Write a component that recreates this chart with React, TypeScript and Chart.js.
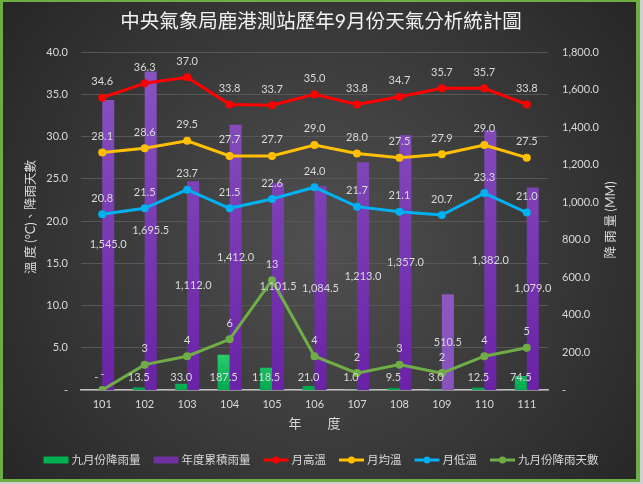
import React, { useEffect, useRef } from 'react';
import { Chart, registerables } from 'chart.js';

Chart.register(...registerables);

const FONT = 'Lato, "Noto Sans CJK TC", sans-serif';

const years = ['101', '102', '103', '104', '105', '106', '107', '108', '109', '110', '111'];
const septRain = [0, 13.5, 33.0, 187.5, 118.5, 21.0, 1.0, 9.5, 3.0, 12.5, 74.5];
const annualRain = [1545.0, 1695.5, 1112.0, 1412.0, 1101.5, 1084.5, 1213.0, 1357.0, 510.5, 1382.0, 1079.0];
const maxTemp = [34.6, 36.3, 37.0, 33.8, 33.7, 35.0, 33.8, 34.7, 35.7, 35.7, 33.8];
const avgTemp = [28.1, 28.6, 29.5, 27.7, 27.7, 29.0, 28.0, 27.5, 27.9, 29.0, 27.5];
const minTemp = [20.8, 21.5, 23.7, 21.5, 22.6, 24.0, 21.7, 21.1, 20.7, 23.3, 21.0];
const rainDays = [0, 3, 4, 6, 13, 4, 2, 3, 2, 4, 5];

const TITLE = '中央氣象局鹿港測站歷年9月份天氣分析統計圖';
const LEFT_TITLE = '溫 度 (°C)、降雨天數';
const RIGHT_TITLE = '降 雨 量 (MM)';
const X_TITLE = '年　　度';

const TEXT = '#d9d9d9';

const fmt1 = (v: number) =>
  v === 0 ? '-' : v.toLocaleString('en-US', { minimumFractionDigits: 1, maximumFractionDigits: 1 });
const fmtInt = (v: number) => (v === 0 ? '-' : String(v));

function greenFill(c: any) {
  const chart = c.chart;
  const ca = chart.chartArea;
  if (!ca) return '#00B050';
  const g = chart.ctx.createLinearGradient(0, ca.bottom - 40, 0, ca.bottom);
  g.addColorStop(0, '#2fd070');
  g.addColorStop(1, '#00a94e');
  return g;
}

function purpleFill(c: any) {
  const chart = c.chart;
  const ca = chart.chartArea;
  if (!ca) return '#7030A0';
  const g = chart.ctx.createLinearGradient(0, ca.top, 0, ca.bottom);
  if (c.dataIndex === 8) {
    g.addColorStop(0, '#9a6cce');
    g.addColorStop(1, '#8652bc');
  } else {
    g.addColorStop(0, '#8a56c2');
    g.addColorStop(1, '#6a22a6');
  }
  return g;
}

// label modes per dataset index: 'base' | 'center' | 'above'
const labelModes = ['base', 'center', 'above', 'above', 'above', 'above'];
const labelFormats = [fmt1, fmt1, fmt1, fmt1, fmt1, fmtInt];

const bgPlugin = {
  id: 'bgPlugin',
  beforeDraw(chart: any) {
    const ctx = chart.ctx;
    const W = chart.width;
    const H = chart.height;
    ctx.save();
    ctx.fillStyle = '#cfcfcf';
    ctx.fillRect(0, 0, W, H);
    ctx.fillStyle = '#6dae43';
    ctx.fillRect(0, 0, 640, 482);
    const g = ctx.createRadialGradient(321, 245, 0, 321, 245, 420);
    g.addColorStop(0, '#505050');
    g.addColorStop(1, '#242424');
    ctx.fillStyle = g;
    ctx.fillRect(3, 2, 633, 477);
    ctx.restore();
  },
};

const labelPlugin = {
  id: 'labelPlugin',
  afterDatasetsDraw(chart: any) {
    const ctx = chart.ctx;
    ctx.save();
    ctx.font = `11px ${FONT}`;
    ctx.fillStyle = TEXT;
    ctx.textAlign = 'center';
    ctx.textBaseline = 'middle';
    chart.data.datasets.forEach((ds: any, i: number) => {
      const meta = chart.getDatasetMeta(i);
      const mode = labelModes[i];
      const f = labelFormats[i];
      meta.data.forEach((el: any, j: number) => {
        const v = ds.data[j];
        let y: number;
        if (mode === 'base') y = el.base - 13;
        else if (mode === 'center') y = (el.y + el.base) / 2;
        else y = el.y - 16;
        ctx.fillText(f(v), el.x, y);
      });
    });
    ctx.restore();
  },
};

const decorPlugin = {
  id: 'decorPlugin',
  afterDraw(chart: any) {
    const ctx = chart.ctx;
    const ca = chart.chartArea;
    ctx.save();
    // title
    ctx.fillStyle = '#f2f2f2';
    ctx.font = `19.5px ${FONT}`;
    ctx.textAlign = 'center';
    ctx.textBaseline = 'middle';
    ctx.fillText(TITLE, 321, 22);

    // axis titles
    ctx.fillStyle = TEXT;
    ctx.font = `12.5px ${FONT}`;
    ctx.save();
    ctx.translate(31, 217);
    ctx.rotate(-Math.PI / 2);
    ctx.fillText(LEFT_TITLE, 0, 0);
    ctx.restore();

    ctx.save();
    ctx.translate(611, 220);
    ctx.rotate(-Math.PI / 2);
    ctx.fillText(RIGHT_TITLE, 0, 0);
    ctx.restore();

    ctx.font = `13px ${FONT}`;
    ctx.fillText(X_TITLE, (ca.left + ca.right) / 2, 424);

    // legend
    ctx.font = `11.5px ${FONT}`;
    ctx.textAlign = 'left';
    const items = chart.data.datasets.map((ds: any) => ({
      label: ds.label,
      color: ds.legendColor,
      kind: ds.type,
    }));
    const boxW = 25;
    const gapText = 3;
    const gapItem = 13;
    let total = 0;
    items.forEach((it: any, k: number) => {
      total += boxW + gapText + ctx.measureText(it.label).width + (k < items.length - 1 ? gapItem : 0);
    });
    let x = 321 - total / 2;
    const y = 460;
    items.forEach((it: any) => {
      if (it.kind === 'bar') {
        ctx.fillStyle = it.color;
        ctx.fillRect(x, y - 3.5, boxW, 7);
      } else {
        ctx.strokeStyle = it.color;
        ctx.lineWidth = 3;
        ctx.beginPath();
        ctx.moveTo(x, y);
        ctx.lineTo(x + boxW, y);
        ctx.stroke();
        ctx.fillStyle = it.color;
        ctx.beginPath();
        ctx.arc(x + boxW / 2, y, 3.5, 0, Math.PI * 2);
        ctx.fill();
      }
      x += boxW + gapText;
      ctx.fillStyle = TEXT;
      ctx.fillText(it.label, x, y + 0.5);
      x += ctx.measureText(it.label).width + gapItem;
    });
    ctx.restore();
  },
};

function lineDs(label: string, data: number[], color: string) {
  return {
    type: 'line',
    label,
    data,
    yAxisID: 'y',
    borderColor: color,
    backgroundColor: color,
    legendColor: color,
    borderWidth: 3,
    pointRadius: 4,
    pointHoverRadius: 4,
    pointBorderWidth: 0,
    pointBackgroundColor: color,
    tension: 0,
    order: 1,
  };
}

export default function App() {
  const ref = useRef<HTMLCanvasElement | null>(null);

  useEffect(() => {
    if (!ref.current) return;
    const chart = new Chart(ref.current, {
      type: 'bar',
      data: {
        labels: years,
        datasets: [
          {
            type: 'bar',
            label: '九月份降雨量',
            data: septRain,
            yAxisID: 'y1',
            backgroundColor: greenFill,
            legendColor: '#00B050',
            categoryPercentage: 0.565,
            barPercentage: 1,
            order: 2,
          } as any,
          {
            type: 'bar',
            label: '年度累積雨量',
            data: annualRain,
            yAxisID: 'y1',
            backgroundColor: purpleFill,
            legendColor: '#7030A0',
            categoryPercentage: 0.565,
            barPercentage: 1,
            order: 2,
          } as any,
          lineDs('月高溫', maxTemp, '#FF0000') as any,
          lineDs('月均溫', avgTemp, '#FFC000') as any,
          lineDs('月低溫', minTemp, '#00B0F0') as any,
          lineDs('九月份降雨天數', rainDays, '#70AD47') as any,
        ],
      },
      options: {
        responsive: false,
        animation: false,
        devicePixelRatio: 1,
        layout: { padding: { top: 52, left: 0, right: 0, bottom: 0 } },
        plugins: {
          legend: { display: false },
          title: { display: false },
          tooltip: { enabled: false },
        },
        scales: {
          x: {
            type: 'category',
            offset: true,
            grid: { display: false, drawTicks: false },
            border: { display: true, color: '#bfbfbf', width: 1.5 },
            ticks: { color: TEXT, font: { family: FONT, size: 11 }, padding: 8, maxRotation: 0 },
            afterFit: (s: any) => {
              s.height = 94;
            },
          },
          y: {
            position: 'left',
            min: 0,
            max: 40,
            grid: { color: '#575757', lineWidth: 1, drawTicks: false },
            border: { display: false },
            ticks: {
              stepSize: 5,
              color: TEXT,
              font: { family: FONT, size: 11 },
              padding: 13,
              callback: (v: any) => fmt1(Number(v)),
            },
            afterFit: (s: any) => {
              s.width = 81;
            },
          },
          y1: {
            position: 'right',
            min: 0,
            max: 1800,
            grid: { display: false, drawTicks: false },
            border: { display: false },
            ticks: {
              stepSize: 200,
              color: TEXT,
              font: { family: FONT, size: 11 },
              padding: 14,
              callback: (v: any) => fmt1(Number(v)),
            },
            afterFit: (s: any) => {
              s.width = 95;
            },
          },
        },
      } as any,
      plugins: [bgPlugin, labelPlugin, decorPlugin],
    });
    return () => chart.destroy();
  }, []);

  return (
    <div style={{ position: 'fixed', left: 0, top: 0, width: 643, height: 484 }}>
      <canvas ref={ref} width={643} height={484} style={{ display: 'block', width: 643, height: 484 }} />
    </div>
  );
}
